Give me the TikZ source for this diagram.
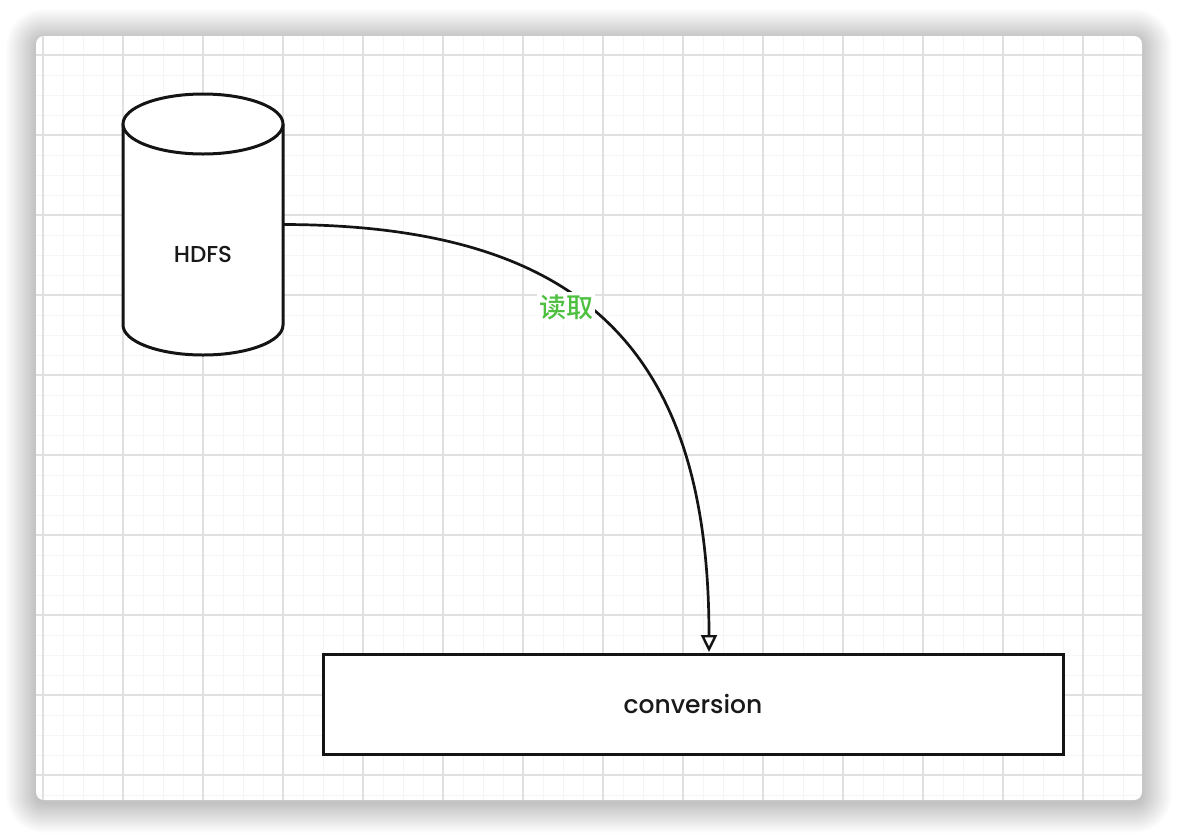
\documentclass[tikz,border=0pt]{standalone}
\usepackage{fontspec}
\setmainfont{Poppins}
\newfontfamily\semib{Poppins Medium}
\newfontfamily\cjk{Noto Sans CJK SC Medium}
\usetikzlibrary{arrows.meta}
\definecolor{labelgreen}{RGB}{77,192,64}
\definecolor{majorgrid}{RGB}{224,224,224}
\definecolor{minorgrid}{RGB}{245,245,245}
\tikzset{
  shapeline/.style={draw=black!92, line width=3pt},
  conn/.style={draw=black!92, line width=2.7pt, -{Triangle[open, length=17pt, width=16pt, line width=2.4pt]}},
  boxtext/.style={font=\semib\fontsize{25}{30}\selectfont, text=black!90},
}
\begin{document}
\begin{tikzpicture}[x=1pt, y=-1pt]
\useasboundingbox (0,0) rectangle (1178,836);
\fill[white] (0,0) rectangle (1178,836);
% shadow of the card
\foreach \i in {1,...,30}{
  \fill[black, opacity=0.006, rounded corners={8+\i}] (36-\i,36-\i+3) rectangle (1142+\i,800+\i+3);
}
\fill[white, rounded corners=8] (36,36) rectangle (1142,800);
% grid
\begin{scope}
\clip[rounded corners=8] (36,36) rectangle (1142,800);
\foreach \x in {43,63,...,1142}{ \draw[minorgrid, line width=1pt] (\x,36) -- (\x,800); }
\foreach \y in {55,75,...,800}{ \draw[minorgrid, line width=1pt] (36,\y) -- (1142,\y); }
\foreach \x in {43,123,...,1142}{ \draw[majorgrid, line width=1.3pt] (\x,36) -- (\x,800); }
\foreach \y in {55,135,...,800}{ \draw[majorgrid, line width=1.3pt] (36,\y) -- (1142,\y); }
\end{scope}
% cylinder HDFS
\node[minimum width=160, minimum height=261, inner sep=0] (hdfs) at (203,224.5) {};
\fill[white] (123,124) -- (123,325) arc[start angle=180, end angle=0, x radius=80, y radius=30] -- (283,124) -- cycle;
\draw[shapeline] (123,124) -- (123,325) arc[start angle=180, end angle=0, x radius=80, y radius=30] -- (283,124);
\draw[shapeline, fill=white] (203,124) ellipse [x radius=80, y radius=30];
\node[boxtext, font=\semib\fontsize{23}{28}\selectfont] (hdfslabel) at (203,254) {HDFS};
% conversion box
\node[shapeline, fill=white, minimum width=740, minimum height=100, inner sep=0, boxtext] (conv) at (693,704) {\raisebox{-4pt}{conversion}};
% connector
\coordinate (tip) at (709,652);
\draw[conn] (hdfs.east) .. controls (583,225) and (709,350) .. (tip);
\node[fill=white, inner sep=2pt, text=labelgreen, font=\cjk\fontsize{27}{30}\selectfont] (readlabel) at (566,307) {读取};
\end{tikzpicture}
\end{document}
